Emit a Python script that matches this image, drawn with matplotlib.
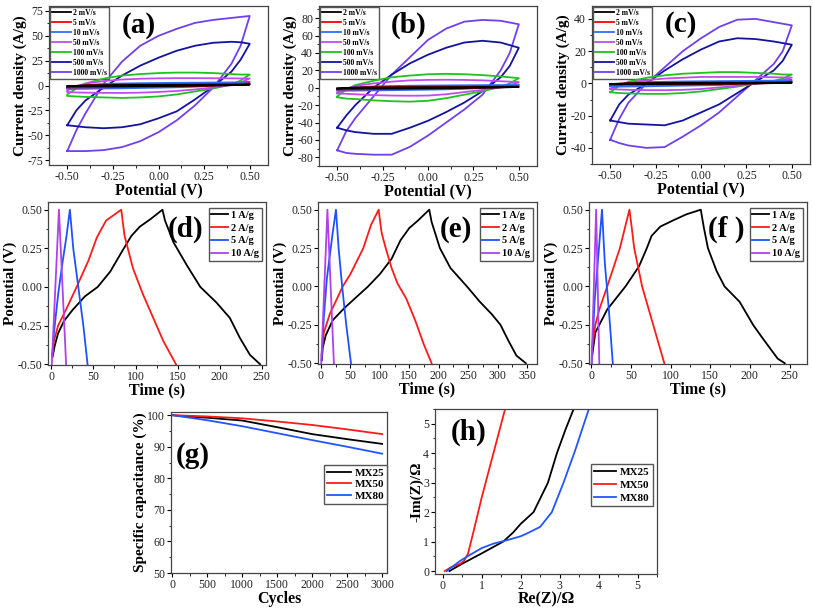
import numpy as np
import matplotlib.pyplot as plt
from matplotlib.ticker import AutoMinorLocator, MultipleLocator

plt.rcParams['font.family'] = ['Liberation Serif', 'DejaVu Serif']
plt.rcParams['axes.unicode_minus'] = False

# ---------------- CV data (a)-(c) ----------------
pot = [-0.5, -0.45, -0.4, -0.3, -0.2, -0.1, 0.0, 0.1, 0.2, 0.3, 0.4, 0.45, 0.5]
rates = ['2 mV/s', '5 mV/s', '10 mV/s', '50 mV/s', '100 mV/s', '500 mV/s', '1000 mV/s']
cv_colors = ['black', 'red', '#2f6bff', '#c04cf0', '#1fc21f', '#13139e', '#7040f0']

# forward (upper) and reverse (lower) branches, one row per scan rate
cv_a_up = [
    [-0.8, -0.3, 0.1, 0.4, 0.5, 0.6, 0.6, 0.7, 0.7, 0.8, 0.8, 0.9, 1.0],
    [-1.5, -0.5, 0.3, 0.8, 1.0, 1.2, 1.3, 1.4, 1.5, 1.6, 1.7, 1.8, 2.0],
    [-2.5, -0.8, 0.5, 1.5, 2.0, 2.3, 2.5, 2.7, 2.8, 3.0, 3.1, 3.2, 3.5],
    [-5, -1, 2, 4.5, 6, 6.8, 7.2, 7.4, 7.4, 7.3, 7.2, 7.1, 7],
    [-9, -3, 2, 7, 10, 11.5, 12.5, 13, 13, 12.5, 11.5, 11, 11],
    [-40, -25, -15, -2, 10, 20, 28, 35, 40, 43, 44, 43.5, 42],
    [-66, -45, -28, 2, 24, 40, 50, 57, 63, 66, 68, 69, 70],
]
cv_a_low = [
    [-1.0, -1.0, -0.9, -0.9, -0.8, -0.7, -0.6, -0.5, -0.3, 0.0, 0.3, 0.6, 1.0],
    [-2.0, -2.0, -1.9, -1.8, -1.6, -1.4, -1.2, -1.0, -0.6, -0.1, 0.5, 1.0, 2.0],
    [-3.5, -3.4, -3.3, -3.0, -2.8, -2.5, -2.2, -1.8, -1.2, -0.3, 0.8, 1.8, 3.5],
    [-6.5, -7, -7.2, -7.4, -7.5, -7.2, -6.5, -5.5, -4.0, -2.0, 0.5, 3, 7],
    [-10.5, -11, -11.5, -12, -12.5, -12, -11, -9, -6, -3, 1, 5, 11],
    [-40, -41, -42, -43, -42, -39, -33, -26, -14, -1, 14, 26, 42],
    [-66, -66, -66, -65, -62, -56, -47, -35, -20, -2, 22, 40, 70],
]
cv_b_up = [
    [-0.8, -0.3, 0.1, 0.4, 0.5, 0.6, 0.6, 0.7, 0.7, 0.8, 0.8, 0.9, 1.0],
    [-1.5, -0.5, 0.3, 0.8, 1.0, 1.2, 1.3, 1.4, 1.5, 1.6, 1.7, 1.8, 2.0],
    [-2.5, -0.8, 0.5, 1.5, 2.0, 2.3, 2.5, 2.7, 2.8, 3.0, 3.1, 3.2, 3.5],
    [-6, -1, 2, 5, 7, 8.5, 9, 9.2, 9, 8.5, 7.5, 7, 6.5],
    [-10, -2, 3, 8, 12, 14, 15.5, 16, 15.5, 14.5, 13, 12, 11],
    [-46, -32, -20, 0, 15, 28, 38, 46, 52, 54, 52, 49, 46],
    [-72, -50, -35, -10, 15, 35, 55, 68, 76, 78, 77, 75, 73],
]
cv_b_low = [
    [-1.0, -1.0, -0.9, -0.9, -0.8, -0.7, -0.6, -0.5, -0.3, 0.0, 0.3, 0.6, 1.0],
    [-2.0, -2.0, -1.9, -1.8, -1.6, -1.4, -1.2, -1.0, -0.6, -0.1, 0.5, 1.0, 2.0],
    [-3.5, -3.4, -3.3, -3.0, -2.8, -2.5, -2.2, -1.8, -1.2, -0.3, 0.8, 1.8, 3.5],
    [-6.5, -7, -7.5, -8.5, -9, -9.2, -9, -7.5, -5, -2.5, 0.5, 3, 6.5],
    [-11, -12.5, -13, -14.5, -15.5, -16, -15, -12, -8, -4, 1, 5, 11],
    [-46, -49, -51, -53, -53, -46, -38, -28, -17, -4, 12, 25, 46],
    [-72, -75, -76, -77, -77, -68, -55, -40, -25, -8, 20, 40, 73],
]
cv_c_up = [
    [-0.4, -0.15, 0.05, 0.2, 0.25, 0.3, 0.3, 0.35, 0.35, 0.4, 0.4, 0.45, 0.5],
    [-0.7, -0.25, 0.15, 0.4, 0.5, 0.6, 0.65, 0.7, 0.75, 0.8, 0.85, 0.9, 1.0],
    [-1.5, -0.5, 0.3, 0.8, 1.0, 1.2, 1.3, 1.4, 1.5, 1.6, 1.7, 1.8, 2.0],
    [-3.5, -1, 0.5, 2, 3, 3.5, 4, 4, 4, 4, 3.8, 3.7, 3.6],
    [-5.5, -1.5, 1, 3.5, 5, 6, 6.5, 7, 7, 6.5, 6, 5.5, 5.5],
    [-23, -13, -7, 0, 8, 15, 21, 26, 28, 27.5, 26, 25, 24],
    [-35, -22, -12, 0, 10, 20, 28, 35, 39.5, 40, 38, 37, 36],
]
cv_c_low = [
    [-0.5, -0.5, -0.45, -0.45, -0.4, -0.35, -0.3, -0.25, -0.15, 0.0, 0.15, 0.3, 0.5],
    [-1.0, -1.0, -0.95, -0.9, -0.8, -0.7, -0.6, -0.5, -0.3, -0.05, 0.25, 0.5, 1.0],
    [-2.0, -2.0, -1.9, -1.8, -1.6, -1.4, -1.2, -1.0, -0.6, -0.1, 0.5, 1.0, 2.0],
    [-3.5, -3.8, -4, -4.2, -4.2, -4, -3.5, -2.5, -1.5, -0.3, 1, 2, 3.6],
    [-5.5, -6, -6.2, -6.5, -6.5, -6, -5, -3.5, -2, 0, 1.5, 3, 5.5],
    [-23, -24, -25, -25.5, -26, -23, -18, -13, -6, 1, 8, 14, 24],
    [-35, -37, -38.5, -40, -39.5, -33, -26, -18, -8, 2, 12, 20, 36],
]

# ---------------- GCD data (d)-(f) ----------------
currents = ['1 A/g', '2 A/g', '5 A/g', '10 A/g']
gcd_colors = ['black', '#ff1a1a', '#2050ff', '#b040e8']

d_t1 = [1.5, 4, 8, 15, 25, 40, 55, 70, 85, 95, 105, 118, 132, 135, 145, 161, 177, 196, 212, 224, 236, 248]
d_v1 = [-0.45, -0.38, -0.3, -0.22, -0.15, -0.06, 0.0, 0.1, 0.24, 0.33, 0.39, 0.44, 0.5, 0.43, 0.29, 0.14, 0.0, -0.1, -0.2, -0.33, -0.44, -0.5]
d_t2 = [1, 3, 8, 18, 30, 44, 54, 65, 83, 87, 97, 109, 121, 133, 148]
d_v2 = [-0.45, -0.35, -0.25, -0.14, 0.0, 0.17, 0.32, 0.43, 0.5, 0.33, 0.12, -0.05, -0.2, -0.35, -0.5]
d_t5 = [1, 3, 8, 13, 18, 22, 26, 32, 38, 43]
d_v5 = [-0.45, -0.3, -0.05, 0.15, 0.33, 0.5, 0.25, 0.0, -0.25, -0.5]
d_t10 = [0.5, 9, 17.5]
d_v10 = [-0.5, 0.5, -0.5]

e_t1 = [1.5, 3, 8, 20, 40, 60, 80, 100, 120, 135, 150, 165, 184, 188, 202, 220, 248, 270, 290, 305, 318, 332, 348]
e_v1 = [-0.48, -0.4, -0.32, -0.22, -0.14, -0.07, 0.0, 0.08, 0.18, 0.3, 0.38, 0.43, 0.5, 0.42, 0.25, 0.12, 0.0, -0.1, -0.18, -0.25, -0.35, -0.45, -0.5]
e_t2 = [1, 5, 15, 37, 50, 72, 85, 98, 103, 110, 120, 130, 145, 160, 175, 188]
e_v2 = [-0.45, -0.3, -0.18, 0.0, 0.08, 0.25, 0.4, 0.5, 0.35, 0.25, 0.12, 0.02, -0.08, -0.22, -0.38, -0.5]
e_t5 = [1, 5, 10, 15, 20, 25.5, 30, 36, 43, 51]
e_v5 = [-0.48, -0.2, 0.05, 0.2, 0.35, 0.5, 0.25, 0.0, -0.25, -0.5]
e_t10 = [0.5, 11, 22]
e_v10 = [-0.5, 0.5, -0.5]

f_t1 = [1, 5, 10, 20, 43, 60, 70, 76, 87, 103, 120, 138, 142, 147, 158, 168, 187, 204, 215, 225, 235, 244]
f_v1 = [-0.45, -0.3, -0.25, -0.15, 0.0, 0.13, 0.25, 0.33, 0.39, 0.43, 0.47, 0.5, 0.38, 0.25, 0.1, 0.0, -0.1, -0.25, -0.33, -0.4, -0.47, -0.5]
f_t2 = [1, 5, 10, 20, 36, 48, 51, 54, 64, 78, 92]
f_v2 = [-0.4, -0.25, -0.15, 0.0, 0.25, 0.5, 0.38, 0.25, 0.0, -0.25, -0.5]
f_t5 = [0.5, 4, 8, 13.4, 17, 22, 27]
f_v5 = [-0.5, -0.1, 0.15, 0.5, 0.15, -0.15, -0.5]
f_t10 = [0.3, 6, 10]
f_v10 = [-0.5, 0.5, -0.5]

# ---------------- cycling (g) and EIS (h) ----------------
samples = ['MX25', 'MX50', 'MX80']
s_colors = ['black', '#ff1a1a', '#2255ff']
cycles = [0, 250, 500, 1000, 1500, 2000, 2500, 3000]
ret_mx25 = [100, 99.5, 99.2, 98.3, 96.2, 94.0, 92.4, 90.9]
ret_mx50 = [100, 99.8, 99.6, 99.0, 98.0, 96.9, 95.5, 94.0]
ret_mx80 = [100, 99.2, 98.4, 96.5, 94.3, 92.1, 90.0, 87.8]

re_mx25 = [0.17, 0.5, 1.0, 1.55, 1.8, 2.0, 2.33, 2.7, 2.93, 3.15, 3.36]
im_mx25 = [0.0, 0.25, 0.6, 1.0, 1.3, 1.6, 2.0, 3.0, 4.0, 4.8, 5.5]
re_mx50 = [0.05, 0.2, 0.45, 0.55, 0.65, 0.8, 1.0, 1.2, 1.4, 1.6]
im_mx50 = [0.0, 0.12, 0.25, 0.35, 0.6, 1.4, 2.5, 3.5, 4.5, 5.5]
re_mx80 = [0.1, 0.25, 0.45, 0.7, 1.0, 1.3, 1.6, 2.0, 2.2, 2.5, 2.8, 3.1, 3.4, 3.75]
im_mx80 = [0.0, 0.15, 0.35, 0.55, 0.78, 0.93, 1.03, 1.18, 1.3, 1.5, 2.0, 3.0, 4.1, 5.5]

W, H = 813, 611
fig = plt.figure(figsize=(W / 100, H / 100), dpi=100)


def add_ax(l, t, r, b):
    return fig.add_axes([l / W, 1 - b / H, (r - l) / W, (b - t) / H])


def style(ax, xlabel, ylabel):
    for s in ax.spines.values():
        s.set_color('#444444')
        s.set_linewidth(0.9)
    ax.xaxis.set_minor_locator(AutoMinorLocator(2))
    ax.yaxis.set_minor_locator(AutoMinorLocator(2))
    ax.tick_params(which='both', direction='out', top=False, right=False, labelsize=8.5, pad=1.2,
                   labelcolor='#222222')
    ax.tick_params(which='major', length=3, width=0.8)
    ax.tick_params(which='minor', length=1.8, width=0.6)
    ax.set_xlabel(xlabel, fontsize=11.5, fontweight='bold', labelpad=0)
    ax.set_ylabel(ylabel, fontsize=11, fontweight='bold', labelpad=0)


def panel_label(ax, txt, x, y):
    ax.text(x, y, txt, transform=ax.transAxes, fontsize=21, fontweight='bold',
            ha='center', va='center')


# CV panels
cv_sets = [(cv_a_up, cv_a_low, (49, 6, 268, 165), (-80, 80), 25, '(a)'),
           (cv_b_up, cv_b_low, (319, 6, 537, 166), (-90, 94), 20, '(b)'),
           (cv_c_up, cv_c_low, (592, 6, 810, 164), (-50, 48), 20, '(c)')]
for ups, lows, box, ylim, ystep, lab in cv_sets:
    ax = add_ax(*box)
    for i in range(len(rates)):
        xs = pot + pot[::-1]
        ys = ups[i] + lows[i][::-1]
        ax.plot(xs, ys, color=cv_colors[i], lw=1.3, label=rates[i], zorder=10 - i)
    ax.set_xlim(-0.6, 0.6)
    ax.set_ylim(*ylim)
    ax.xaxis.set_major_locator(MultipleLocator(0.25))
    ax.yaxis.set_major_locator(MultipleLocator(ystep))
    style(ax, 'Potential (V)', 'Current density (A/g)')
    ax.legend(loc='upper left', bbox_to_anchor=(0.005, 0.995), borderaxespad=0,
              prop={'weight': 'bold', 'size': 5.5}, labelspacing=0.25,
              handlelength=2.4, handletextpad=0.3, borderpad=0.3,
              frameon=True, fancybox=False, edgecolor='#555555', framealpha=1)
    panel_label(ax, lab, 0.41, 0.88)

# GCD panels
gcd_sets = [([d_t1, d_t2, d_t5, d_t10], [d_v1, d_v2, d_v5, d_v10], (48, 202, 266, 365), (-4, 255), '(d)'),
            ([e_t1, e_t2, e_t5, e_t10], [e_v1, e_v2, e_v5, e_v10], (318, 202, 537, 364), (-5, 367), '(e)'),
            ([f_t1, f_t2, f_t5, f_t10], [f_v1, f_v2, f_v5, f_v10], (589, 202, 807, 364), (-3, 272), '(f )')]
for ts, vs, box, xlim, lab in gcd_sets:
    ax = add_ax(*box)
    for i in range(len(currents)):
        ax.plot(ts[i], vs[i], color=gcd_colors[i], lw=1.3, label=currents[i])
    ax.set_xlim(*xlim)
    ax.set_ylim(-0.505, 0.55)
    ax.xaxis.set_major_locator(MultipleLocator(50))
    ax.yaxis.set_major_locator(MultipleLocator(0.25))
    style(ax, 'Time (s)', 'Potential (V)')
    ax.legend(loc='upper right', bbox_to_anchor=(0.98, 0.965), borderaxespad=0,
              prop={'weight': 'bold', 'size': 7.5}, labelspacing=0.35,
              handlelength=1.6, handletextpad=0.3, borderpad=0.25,
              frameon=True, fancybox=False, edgecolor='#555555', framealpha=1)
    panel_label(ax, lab, 0.63, 0.83)

# (g) cycling stability
ax = add_ax(171, 412, 387, 573)
for i, ret in enumerate([ret_mx25, ret_mx50, ret_mx80]):
    ax.plot(cycles, ret, color=s_colors[i], lw=1.3, label=samples[i])
ax.set_xlim(-15, 3070)
ax.set_ylim(50, 101)
ax.xaxis.set_major_locator(MultipleLocator(500))
ax.yaxis.set_major_locator(MultipleLocator(10))
style(ax, 'Cycles', 'Specific capacitance (%)')
ax.legend(loc='center right', bbox_to_anchor=(1.0, 0.55), borderaxespad=0,
          prop={'weight': 'bold', 'size': 8}, labelspacing=0.15,
          handlelength=2.2, handletextpad=0.3, borderpad=0.25,
          frameon=True, fancybox=False, edgecolor='#555555', framealpha=1)
panel_label(ax, '(g)', 0.10, 0.73)

# (h) Nyquist
ax = add_ax(435, 409, 657, 574)
for i, (re, im) in enumerate([(re_mx25, im_mx25), (re_mx50, im_mx50), (re_mx80, im_mx80)]):
    ax.plot(re, im, color=s_colors[i], lw=1.3, label=samples[i])
ax.set_xlim(-0.2, 5.5)
ax.set_ylim(-0.1, 5.5)
ax.xaxis.set_major_locator(MultipleLocator(1))
ax.yaxis.set_major_locator(MultipleLocator(1))
style(ax, 'Re(Z)/Ω', '-Im(Z)/Ω')
ax.legend(loc='center right', bbox_to_anchor=(0.98, 0.54), borderaxespad=0,
          prop={'weight': 'bold', 'size': 8}, labelspacing=0.3,
          handlelength=2.0, handletextpad=0.3, borderpad=0.3,
          frameon=True, fancybox=False, edgecolor='#555555', framealpha=1)
panel_label(ax, '(h)', 0.15, 0.86)

fig.savefig('out.png', dpi=100)
